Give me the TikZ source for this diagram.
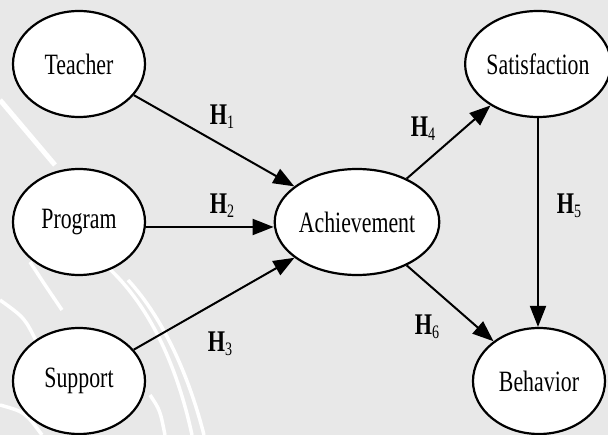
\documentclass[tikz,border=0pt]{standalone}
\usepackage{fontspec}
\setmainfont{Liberation Serif}[FakeStretch=0.74]
\usetikzlibrary{shapes.geometric,arrows.meta}
\definecolor{bggray}{HTML}{E8E8E8}
\tikzset{
  construct/.style={draw, ellipse, fill=white, line width=2.2pt,
    minimum width=132pt, minimum height=106pt, inner sep=0pt,
    font=\fontsize{29.5}{32}\selectfont},
  hyp/.style={line width=2pt, -{Triangle[length=21pt,width=16pt]}},
  hlabel/.style={font=\fontsize{30}{32}\selectfont}
}
% hypothesis label: bold H with a plain subscript
\newcommand{\hyplabel}[1]{\textbf{H}\raisebox{-4pt}{\fontsize{19}{19}\selectfont #1}}
\begin{document}
\begin{tikzpicture}[x=1pt,y=-1pt]
\useasboundingbox[fill=bggray] (0,0) rectangle (608,435);
% faint logo lines in the background
\begin{scope}[white, line width=3.5pt]
\draw[line width=5pt] (0,100) -- (55,165);
\draw (30,262) .. controls (45,285) .. (62,310);
\draw (97,258) .. controls (150,300) and (178,370) .. (192,435);
\draw (128,280) .. controls (165,320) and (190,380) .. (204,435);
\draw (0,300) .. controls (25,318) .. (38,345);
\draw (0,405) .. controls (25,412) .. (42,435);
\draw (150,395) .. controls (160,410) .. (165,435);
\end{scope}
% constructs
\node[construct] (teacher) at (79,64) {Teacher};
\node[construct] (program) at (79,222) {Program};
\node[construct] (support) at (79,381) {Support};
\node[construct] (achieve) at (357,222) {Achievement};
\node[construct] (satis) at (538,64) {Satisfaction};
\node[construct] (behavior) at (539,381) {Behavior};
% paths
\draw[hyp] (teacher) -- (achieve);
\draw[hyp] ([yshift=-5pt]program.east) -- ([yshift=-5pt]achieve.west);
\draw[hyp] (support) -- (achieve);
\draw[hyp] (achieve) -- (satis);
\draw[hyp] (satis) -- (satis |- behavior.north);
\draw[hyp] (achieve) -- (behavior);
% labels
\node[hlabel] (h1) at (222,117) {\hyplabel{1}};
\node[hlabel] (h2) at (222,206) {\hyplabel{2}};
\node[hlabel] (h3) at (220,344) {\hyplabel{3}};
\node[hlabel] (h4) at (423,129) {\hyplabel{4}};
\node[hlabel] (h5) at (569,206) {\hyplabel{5}};
\node[hlabel] (h6) at (427,327) {\hyplabel{6}};
\end{tikzpicture}
\end{document}
